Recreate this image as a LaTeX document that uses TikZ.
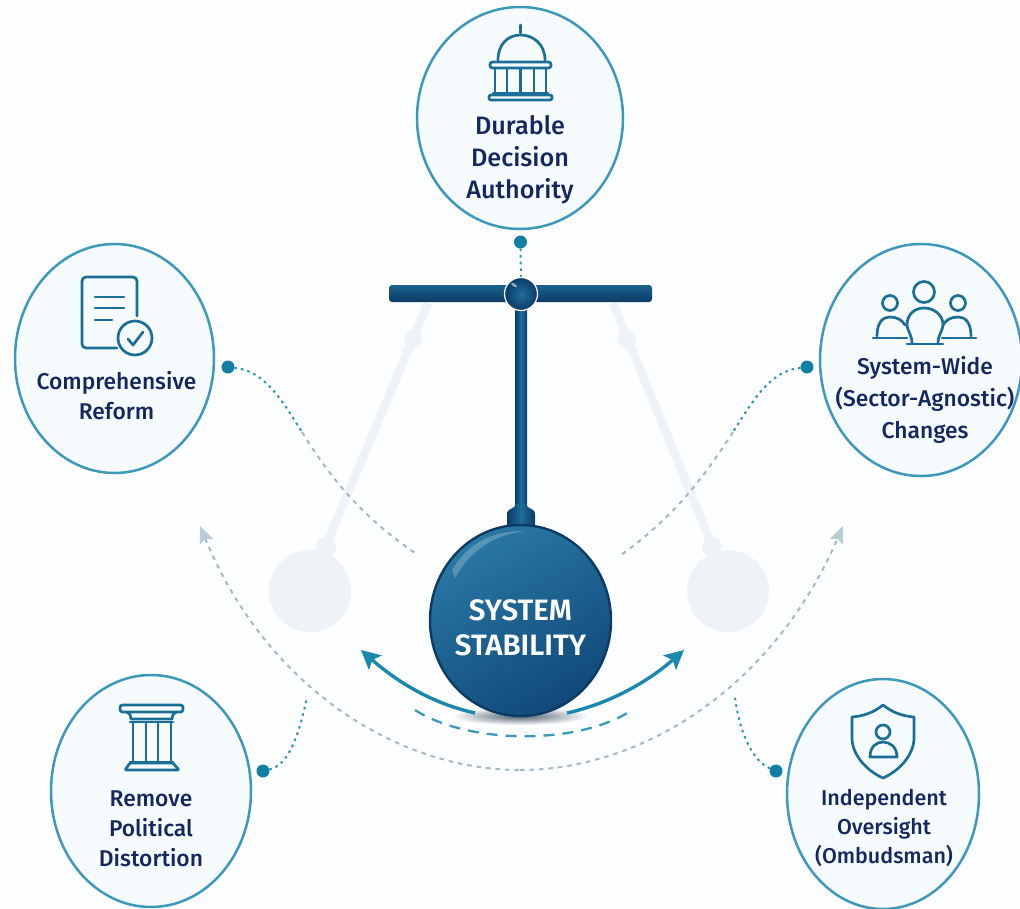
\documentclass[tikz,border=0pt]{standalone}
\usepackage{fontspec}
\usetikzlibrary{shapes.geometric,arrows.meta}
\newfontfamily\labfont{Fira Sans Medium}
\newfontfamily\ballfont{Fira Sans SemiBold}
\definecolor{bgc}{HTML}{FDFEFF}
\definecolor{circfill}{HTML}{F6FBFE}
\definecolor{circline}{HTML}{3D98BC}
\definecolor{navytext}{HTML}{14285F}
\definecolor{iconc}{HTML}{1B6F96}
\definecolor{tealdot}{HTML}{0F7FA6}
\definecolor{tealarrow}{HTML}{1A88AC}
\definecolor{ghostc}{HTML}{EFF3F8}
\definecolor{greydash}{HTML}{A3B9C6}
\definecolor{arctip}{HTML}{B9CDD8}
\definecolor{ballout}{HTML}{0C3A66}
\definecolor{ballin}{HTML}{1E6E9C}
\definecolor{balllight}{HTML}{2A78A4}
\definecolor{ballmid}{HTML}{145484}
\definecolor{balldark}{HTML}{10497A}
\tikzset{
  x=1pt,y=-1pt,
  topic/.style={draw=circline,fill=circfill,line width=2.5pt,ellipse,inner sep=0pt,outer sep=0pt},
  lab/.style={font=\labfont\fontsize{25.2}{32}\selectfont,text=navytext,align=center,inner sep=0pt},
  labsm/.style={font=\labfont\fontsize{22.8}{30}\selectfont,text=navytext,align=center,inner sep=0pt},
  labsr/.style={font=\labfont\fontsize{22.8}{32}\selectfont,text=navytext,align=center,inner sep=0pt},
  labse/.style={font=\labfont\fontsize{21.5}{29}\selectfont,text=navytext,align=center,inner sep=0pt},
  anchordot/.style={circle,fill=tealdot,minimum size=13pt,inner sep=0pt,outer sep=0pt},
  icon/.style={draw=iconc,line width=2.7pt,line cap=round,line join=round},
  linkdots/.style={draw=tealdot!85!white,line width=2pt,dash pattern=on 2.6pt off 4pt},
  linkfade/.style={draw=greydash,line width=2pt,dash pattern=on 4.5pt off 5pt},
  ghost/.style={circle,fill=ghostc,inner sep=0pt,outer sep=0pt},
  ghostrod/.style={draw=ghostc,line width=8.5pt},
  swing/.style={draw=tealarrow,line width=3.4pt,-{Stealth[length=19pt,width=19pt,inset=4pt]}},
}
\begin{document}
\begin{tikzpicture}
\useasboundingbox (0,0) rectangle (1020,908);
\fill[bgc] (0,0) rectangle (1020,908);

% ghost pendulums
\coordinate (gla) at (428,303); \coordinate (glb) at (326,545);
\coordinate (gra) at (613,303); \coordinate (grb) at (712,545);
\draw[ghostrod] (gla) -- (glb);
\draw[ghostrod] (gra) -- (grb);
\node[ghost,minimum size=18pt] (gjl) at (413,339) {};
\node[ghost,minimum size=18pt] (gjr) at (627,339) {};
\node[ghost,minimum size=20pt] (gcl) at (326,547) {};
\node[ghost,minimum size=20pt] (gcr) at (712,547) {};
\node[ghost,minimum size=82pt] (gbl) at (310,591) {};
\node[ghost,minimum size=82pt] (gbr) at (728,591) {};

% topics
\node[topic,minimum width=206pt,minimum height=222pt] (tA) at (520,118) {};
\node[topic,minimum width=199pt,minimum height=229pt] (tB) at (114.5,358.5) {};
\node[topic,minimum width=202pt,minimum height=232pt] (tC) at (921,360) {};
\node[topic,minimum width=200pt,minimum height=232pt] (tD) at (151,791) {};
\node[topic,minimum width=192pt,minimum height=230pt] (tE) at (883,794) {};

\node[lab] (lA) at (520,160) {Durable\\Decision\\Authority};
\node[labsm] (lB) at (116.5,396) {Comprehensive\\Reform};
\node[labsr] (lC) at (925,400) {System-Wide\\(Sector-Agnostic)\\Changes};
\node[labsm] (lD) at (151,829) {Remove\\Political\\Distortion};
\node[labse] (lE) at (884,828) {Independent\\Oversight\\(Ombudsman)};

% dots
\node[anchordot] (dA) at (520.5,242) {};
\node[anchordot] (dB) at (228,367) {};
\node[anchordot] (dC) at (807,367) {};
\node[anchordot] (dD) at (263,771) {};
\node[anchordot] (dE) at (776,771) {};
\coordinate (mB) at (302,432); \coordinate (eB) at (418,555);
\coordinate (mC) at (733,432); \coordinate (eC) at (621,555);
\coordinate (eD) at (307,697); \coordinate (eE) at (735,697);
\coordinate (aL) at (200,526); \coordinate (aR) at (843,526); \coordinate (aM) at (520,770);

% connectors
\draw[linkdots] (dB) .. controls (264,371) and (280,397) .. (mB);
\draw[linkfade] (mB) .. controls (324,467) and (354,512) .. (eB);
\draw[linkdots] (dC) .. controls (771,371) and (755,397) .. (mC);
\draw[linkfade] (mC) .. controls (710,467) and (681,512) .. (eC);
\draw[linkdots] (dD) .. controls (290,765) and (300,730) .. (eD);
\draw[linkdots] (dE) .. controls (750,760) and (738,725) .. (eE);
\draw[linkfade,{Stealth[length=17pt,width=14pt,inset=3pt,color=arctip]}-] (aL) .. controls (268,690) and (400,770) .. (aM);
\draw[linkfade,-{Stealth[length=17pt,width=14pt,inset=3pt,color=arctip]}] (aM) .. controls (640,770) and (772,690) .. (aR);

% pendulum
\node[circle,minimum size=10pt] (piv0) at (521,294) {};
\draw[linkdots] (dA) -- (piv0);
\path[rounded corners=3pt,top color=ballin!90!black,bottom color=ballout] (389,285) rectangle (652,302);
\node[inner sep=0pt,outer sep=0pt,minimum width=12pt,minimum height=205pt,left color=ballout,right color=ballout,middle color=ballin] (rod) at (521,405) {};
\path[left color=ballout,right color=ballout,middle color=ballin] (507,527) -- (507,515) .. controls (507,507) and (513,511) .. (516,504) -- (526,504) .. controls (529,511) and (535,507) .. (535,515) -- (535,527) -- cycle;
\node[circle,draw=white,line width=1.2pt,minimum size=33pt,inner sep=0pt,inner color=ballin,outer color=ballout] (pivot) at (521,294) {};
\fill[white,opacity=.55,rotate around={-35:(514,285)}] (514,285) ellipse (3.4pt and 1.4pt);

% shadow
\shade[inner color=black!50!ballout,outer color=bgc,opacity=.7] (520,716) ellipse (68pt and 9pt);

% ball
\node[ellipse,draw=ballout,line width=2.4pt,minimum width=181pt,minimum height=191pt,inner sep=0pt,top color=balllight,middle color=ballmid,bottom color=balldark,shading angle=30] (ball) at (520.5,620.5) {};
\path[fill=white,opacity=.22] (452,570) .. controls (470,540) and (495,531) .. (525,531) .. controls (495,535) and (472,548) .. (455,578) -- cycle;
\node[font=\ballfont\fontsize{29.5}{35}\selectfont,text=white,align=center,inner sep=0pt] (bl) at (520.5,628) {SYSTEM\\STABILITY};

% swing arrows
\coordinate (sLa) at (475,713); \coordinate (sLb) at (361,650);
\coordinate (sRa) at (567,713); \coordinate (sRb) at (684,650);
\draw[swing] (sLa) .. controls (430,703) and (395,680) .. (sLb);
\draw[swing] (sRa) .. controls (612,703) and (650,680) .. (sRb);
\coordinate (sDa) at (415,710); \coordinate (sDb) at (632,710);
\draw[draw=tealarrow!85!white,line width=2.3pt,dash pattern=on 11pt off 8pt] (sDa) .. controls (470,745) and (580,745) .. (sDb);

% dome icon
\draw[icon] (520.5,25) -- (520.5,33);
\draw[icon] (498,60) .. controls (498,44) and (508,35) .. (520.5,35) .. controls (533,35) and (545,44) .. (545,60);
\draw[icon,rounded corners=2.5pt,fill=circfill] (490,62) rectangle (551,68);
\draw[icon] (495,68) -- (495,93) (507,68) -- (507,93) (520.5,68) -- (520.5,93) (534,68) -- (534,93) (546,68) -- (546,93);
\draw[icon] (493,93) -- (548,93);
\draw[icon,rounded corners=2pt] (489,95) rectangle (552,100);

% document icon
\draw[icon,rounded corners=4pt] (137,316) -- (137,277) -- (82,277) -- (82,348) -- (117,348);
\draw[icon] (95,297) -- (124,297) (95,308) -- (124,308) (95,320) -- (112,320);
\draw[icon] (135,338) circle (17pt);
\draw[icon] (128,339) -- (133,345) -- (143,332);

% people icon
\draw[icon] (924,292) circle (10.5pt);
\draw[icon] (890,303) circle (7.5pt);
\draw[icon] (958,303) circle (7.5pt);
\draw[icon] (877,336) .. controls (877,322) and (883,317) .. (890,317) .. controls (897,317) and (902,320) .. (905,325);
\draw[icon] (873,338) -- (907,338);
\draw[icon] (971,336) .. controls (971,322) and (965,317) .. (958,317) .. controls (951,317) and (946,320) .. (943,325);
\draw[icon] (942,338) -- (976,338);
\draw[icon] (912,343) .. controls (912,335) and (907,330) .. (907,325) .. controls (907,314) and (915,308) .. (924,308) .. controls (933,308) and (943,314) .. (943,325) .. controls (943,330) and (938,335) .. (938,343);
\draw[icon] (907,344) -- (943,344);

% column icon
\draw[icon,rounded corners=2.5pt] (120,705) rectangle (183,712);
\draw[icon] (127,712) .. controls (130,713) and (131,716) .. (131,719) -- (172,719) .. controls (172,716) and (173,713) .. (176,712);
\draw[icon] (133,722) -- (133,762) (146,722) -- (146,762) (158,722) -- (158,762) (171,722) -- (171,762);
\draw[icon] (130,722) -- (173,722) (130,762) -- (173,762);
\draw[icon,rounded corners=1pt] (125,770) -- (130,763) -- (173,763) -- (179,770) -- cycle;

% shield icon
\draw[icon] (883,705) .. controls (873,713) and (863,716) .. (852,717) -- (852,738) .. controls (852,755) and (867,771) .. (883,778) .. controls (899,771) and (914,755) .. (914,738) -- (914,717) .. controls (903,716) and (893,713) .. (883,705) -- cycle;
\draw[icon] (883,732) circle (7pt);
\draw[icon] (870,757) .. controls (870,747) and (876,742) .. (883,742) .. controls (890,742) and (897,747) .. (897,757) -- cycle;
\end{tikzpicture}
\end{document}
